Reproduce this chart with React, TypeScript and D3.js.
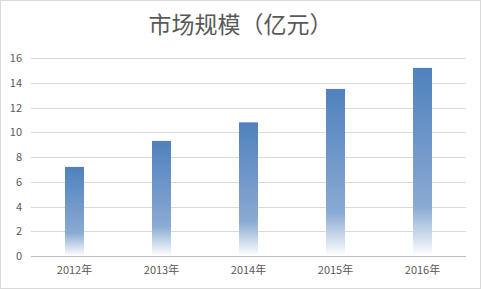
import React from "react";
import * as d3 from "d3";

const categories = ["2012年", "2013年", "2014年", "2015年", "2016年"];
const values = [7.2, 9.3, 10.8, 13.5, 15.2];
const yTicks = [0, 2, 4, 6, 8, 10, 12, 14, 16];
const title = "市场规模（亿元）";

export default function App() {
  const W = 481, H = 289;
  const left = 31, right = 466, top = 58, bottom = 256;
  const x = d3.scaleBand<string>().domain(categories).range([left, right]).paddingInner(0).paddingOuter(0);
  const y = d3.scaleLinear().domain([0, 16]).range([bottom, top]);
  const barW = 19;
  const font = "'Noto Sans CJK SC', 'Noto Sans', sans-serif";
  return (
    <svg width={W} height={H} style={{ position: "absolute", left: 0, top: 0, background: "#fff" }}>
      <defs>
        <linearGradient id="barGrad" x1="0" y1="0" x2="0" y2="1">
          <stop offset="0" stopColor="#4f81bd" />
          <stop offset="0.74" stopColor="#8aaad3" />
          <stop offset="1" stopColor="#ffffff" />
        </linearGradient>
      </defs>
      <rect x={0.5} y={0.5} width={W - 1} height={H - 1} fill="#fff" stroke="#d9d9d9" />
      <text x={W / 2} y={33} textAnchor="middle" fontFamily={font} fontSize={23} fill="#595959">{title}</text>
      {yTicks.map((t) => (
        <g key={t}>
          <line x1={left} x2={right} y1={Math.round(y(t)) + 0.5} y2={Math.round(y(t)) + 0.5} stroke={t === 0 ? "#bfbfbf" : "#d9d9d9"} />
          <text x={22} y={y(t) + 4} textAnchor="end" fontFamily={font} fontSize={11} fill="#595959">{t}</text>
        </g>
      ))}
      {categories.map((c, i) => (
        <g key={c}>
          <rect x={(x(c) as number) + x.bandwidth() / 2 - barW / 2} y={y(values[i])} width={barW} height={bottom - y(values[i])} fill="url(#barGrad)" />
          <text x={(x(c) as number) + x.bandwidth() / 2} y={274} textAnchor="middle" fontFamily={font} fontSize={11} fill="#595959">{c}</text>
        </g>
      ))}
    </svg>
  );
}
